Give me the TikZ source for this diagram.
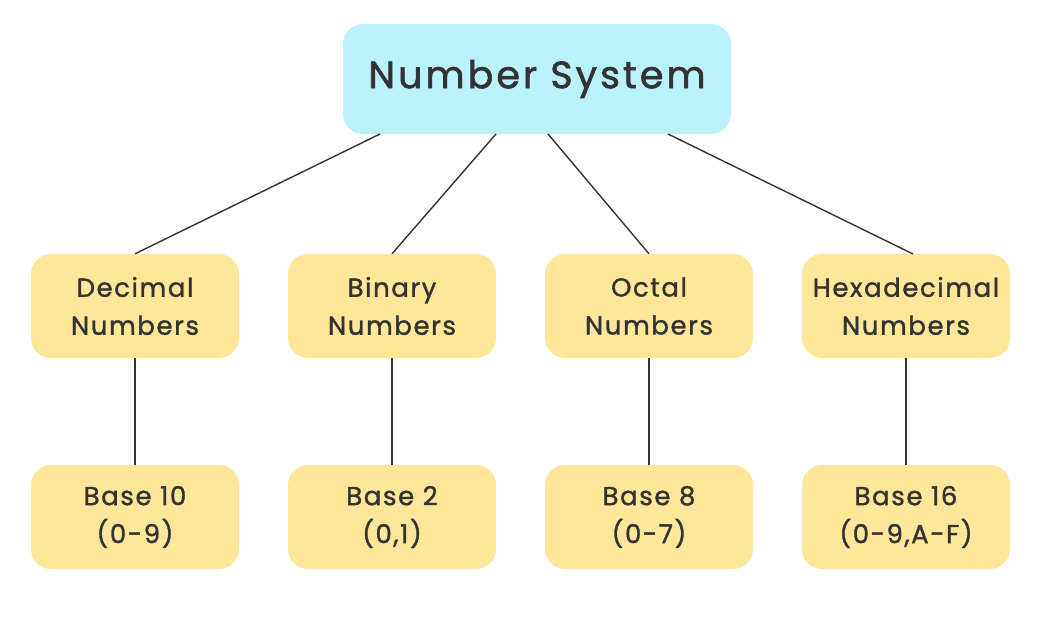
\documentclass[tikz,border=0pt]{standalone}
\usepackage{fontspec}
\setmainfont{Poppins}[LetterSpace=6,FakeBold=1.3]
\newfontfamily\titlefont{Poppins}[LetterSpace=8,FakeBold=1.6]
\definecolor{topfill}{HTML}{B9F1FC}
\definecolor{boxfill}{HTML}{FFE699}
\definecolor{txt}{HTML}{333333}
\begin{document}
\begin{tikzpicture}[x=1pt,y=-1pt,
  topbox/.style={fill=topfill,rounded corners=20pt,minimum width=388pt,minimum height=110pt,inner sep=0pt,text=txt,font=\titlefont\fontsize{38}{44}\selectfont},
  catbox/.style={fill=boxfill,rounded corners=20pt,minimum width=208pt,minimum height=104pt,inner sep=0pt,align=center,text=txt,font=\fontsize{26}{38}\selectfont},
  link/.style={draw=txt,line width=1.4pt}]
\useasboundingbox (0,0) rectangle (1042,630);
\node[topbox] (top) at (537,79) {Number System};
\node[catbox] (dec) at (135,306) {Decimal\\Numbers};
\node[catbox] (bin) at (392,306) {Binary\\Numbers};
\node[catbox] (oct) at (649,306) {Octal\\Numbers};
\node[catbox] (hex) at (906,306) {Hexadecimal\\Numbers};
\node[catbox] (b10) at (135,517) {Base 10\\(0-9)};
\node[catbox] (b2) at (392,517) {Base 2\\(0,1)};
\node[catbox] (b8) at (649,517) {Base 8\\(0-7)};
\node[catbox] (b16) at (906,517) {Base 16\\(0-9,A-F)};
\coordinate (t1) at (380,134);
\coordinate (t2) at (496,134);
\coordinate (t3) at (548,134);
\coordinate (t4) at (668,134);
\coordinate (h4) at (913,254);
\draw[link] (t1) -- (dec.north);
\draw[link] (t2) -- (bin.north);
\draw[link] (t3) -- (oct.north);
\draw[link] (t4) -- (h4);
\draw[link] (dec.south) -- (b10.north);
\draw[link] (bin.south) -- (b2.north);
\draw[link] (oct.south) -- (b8.north);
\draw[link] (hex.south) -- (b16.north);
\end{tikzpicture}
\end{document}
